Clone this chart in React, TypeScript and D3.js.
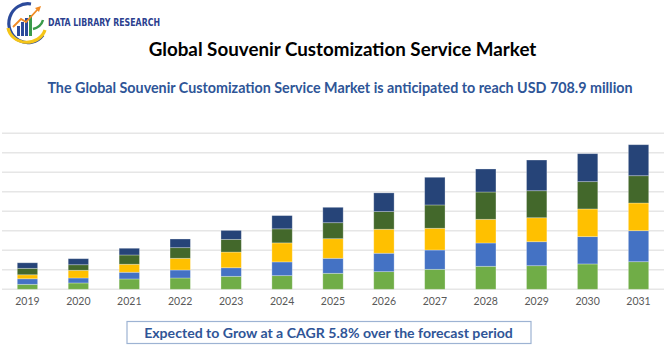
import React from "react";
import * as d3 from "d3";

const years = ["2019","2020","2021","2022","2023","2024","2025","2026","2027","2028","2029","2030","2031"];
const seriesKeys = ["s1","s2","s3","s4","s5"];
const s1 = [5.1, 6.5, 10.6, 11.6, 13.3, 14.0, 16.4, 18.1, 20.5, 23.6, 24.2, 26.0, 28.3];
const s2 = [5.7, 5.1, 6.9, 8.2, 8.8, 14.1, 15.4, 18.9, 19.8, 23.9, 24.6, 28.0, 31.8];
const s3 = [4.1, 7.9, 8.2, 12.0, 16.1, 19.5, 20.1, 24.6, 22.3, 24.3, 24.6, 28.4, 28.4];
const s4 = [6.6, 5.7, 9.5, 10.9, 13.0, 14.4, 16.4, 18.1, 23.9, 28.0, 27.7, 28.0, 28.0];
const s5 = [5.7, 6.2, 6.9, 8.9, 9.2, 13.6, 15.8, 19.2, 28.4, 23.6, 31.5, 28.7, 31.8];
const seriesColors = ["#70AD47", "#4472C4", "#FFC000", "#43682B", "#264478"];
const yTicks = [0, 20, 40, 60, 80, 100, 120, 140, 160];

const title = "Global Souvenir Customization Service Market";
const subtitle = "The Global Souvenir Customization Service Market is anticipated to reach USD 708.9 million";
const footer = "Expected to Grow at a CAGR 5.8% over the forecast period";
const brand = "DATA LIBRARY RESEARCH";

const W = 670, H = 350;
const plot = { left: 2, right: 664, top: 133.3, bottom: 289.3 };
const FONT = "Lato, 'Open Sans', sans-serif";

export default function App() {
  const rows = years.map((y, i) => ({ year: y, s1: s1[i], s2: s2[i], s3: s3[i], s4: s4[i], s5: s5[i] }));
  const stack = d3.stack<any>().keys(seriesKeys)(rows);
  const x = d3.scaleBand().domain(years).range([plot.left, plot.right]).paddingInner(0.6).paddingOuter(0.3);
  const y = d3.scaleLinear().domain([0, 160]).range([plot.bottom, plot.top]);

  return (
    <svg width={W} height={H} style={{ position: "absolute", left: 0, top: 0, background: "#fff" }}>
      {/* logo */}
      <g>
        <path d="M 31 4 A 19 19.5 0 1 0 43 35" fill="none" stroke="#2b4a9b" strokeWidth={3.2} />
        <path d="M 8 28 A 19 17 0 0 0 45 30" fill="none" stroke="#f5c518" strokeWidth={3.2} />
        <rect x={17} y={26} width={3} height={10} fill="#2b4a9b" />
        <rect x={21} y={22} width={3} height={14} fill="#2b4a9b" />
        <rect x={25} y={18} width={3} height={18} fill="#2b4a9b" />
        <rect x={29} y={15} width={3} height={21} fill="#3a9a4a" />
        <path d="M 13 27 L 21 19 L 26 22 L 38 9" fill="none" stroke="#f08a24" strokeWidth={1.8} />
        <path d="M 35 8 L 41 6 L 39 12 Z" fill="#f08a24" />
        <path d="M 33 29 Q 41 27 43 20" fill="none" stroke="#3a9a4a" strokeWidth={2.5} />
        <text x={48} y={25.5} textLength={112} lengthAdjust="spacingAndGlyphs" fontFamily="'DejaVu Sans Condensed', 'DejaVu Sans', sans-serif" fontWeight="bold" fontSize={10.5} fill="#2c3f8f">{brand}</text>
      </g>

      <text x={342.5} y={56} textAnchor="middle" fontFamily={FONT} fontWeight="bold" fontSize={18.8} fill="#000">{title}</text>
      <text x={340} y={93} textAnchor="middle" fontFamily={FONT} fontWeight="bold" fontSize={14.3} fill="#2E5597">{subtitle}</text>

      {/* gridlines */}
      {yTicks.map((t) => (
        <line key={t} x1={plot.left} x2={plot.right} y1={y(t)} y2={y(t)} stroke="#e6e6e6" strokeWidth={1.5} />
      ))}

      {/* bars */}
      {stack.map((layer, li) => (
        <g key={layer.key} fill={seriesColors[li]}>
          {layer.map((d, i) => (
            <rect key={i} x={x(years[i])!} width={x.bandwidth()} y={y(d[1])} height={y(d[0]) - y(d[1])}
              stroke="#ffffff" strokeOpacity={0.35} strokeWidth={0.8} />
          ))}
        </g>
      ))}

      {/* x labels */}
      {years.map((yr) => (
        <text key={yr} x={x(yr)! + x.bandwidth() / 2} y={304.5} textAnchor="middle" fontFamily={FONT} fontSize={10.5} fill="#595959">{yr}</text>
      ))}

      {/* footer box */}
      <rect x={127} y={321.5} width={404} height={22} fill="#fff" stroke="#9db3d3" strokeWidth={1.2} />
      <text x={328.5} y={337.5} textAnchor="middle" fontFamily={FONT} fontWeight="bold" fontSize={14.1} fill="#2F5597">{footer}</text>
    </svg>
  );
}
